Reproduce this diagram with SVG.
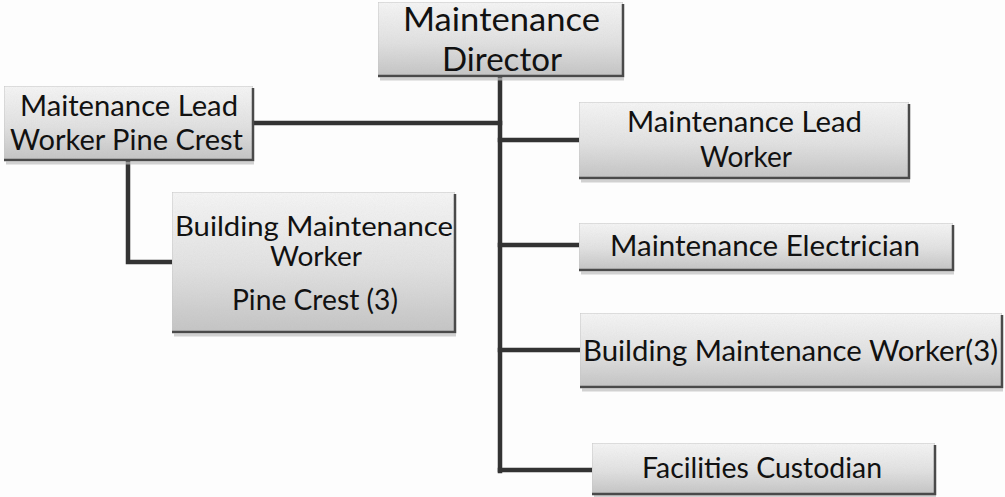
<svg xmlns="http://www.w3.org/2000/svg" width="1005" height="497" viewBox="0 0 1005 497">
<defs>
<linearGradient id="g" x1="0" y1="0" x2="0" y2="1">
<stop offset="0" stop-color="#f7f7f7"/>
<stop offset="0.55" stop-color="#e2e2e2"/>
<stop offset="1" stop-color="#c4c4c4"/>
</linearGradient>
<filter id="grain" x="0" y="0" width="1" height="1">
<feTurbulence type="fractalNoise" baseFrequency="0.9" numOctaves="2" result="n"/>
<feColorMatrix in="n" type="matrix" values="0 0 0 0 0.5  0 0 0 0 0.5  0 0 0 0 0.5  0 0 0 0.18 0" result="m"/>
<feComposite in="m" in2="SourceGraphic" operator="in" result="c"/>
<feMerge><feMergeNode in="SourceGraphic"/><feMergeNode in="c"/></feMerge>
</filter>
</defs>
<style>
.box{fill:url(#g);stroke:#c8c8c8;stroke-width:1;filter:url(#grain)}
.edge{fill:none;stroke:#4a4a4a;stroke-width:2.5}
.shadow{fill:none;stroke:#bdbdbd;stroke-width:3;opacity:0.7}
.conn{fill:none;stroke:#333;stroke-width:4.5;stroke-linecap:square}
text{font-family:Lato,"Open Sans","Liberation Sans",sans-serif;fill:#111;text-anchor:start}
</style>
<rect width="1005" height="497" fill="#fdfdfd"/>
<g id="connectors">
<path class="conn" d="M500,77 V471"/>
<path class="conn" d="M253,123 H500"/>
<path class="conn" d="M500,140 H579"/>
<path class="conn" d="M500,245 H579"/>
<path class="conn" d="M500,350 H580"/>
<path class="conn" d="M500,470 H592"/>
<path class="conn" d="M128,160 V262 H172"/>
</g>
<g id="director">
<rect class="box" x="378" y="2" width="245" height="74"/>
<path class="shadow" d="M380,79 H624"/>
<path class="edge" d="M623,4 V76 H378"/>
<text x="403" y="31" font-size="33" textLength="197" lengthAdjust="spacingAndGlyphs">Maintenance</text>
<text x="442" y="71" font-size="33" textLength="120" lengthAdjust="spacingAndGlyphs">Director</text>
</g>
<g id="lead-pine-crest">
<rect class="box" x="4" y="86" width="249" height="74"/>
<path class="shadow" d="M6,163 H254"/>
<path class="edge" d="M253,88 V160 H4"/>
<text x="20" y="116" font-size="28" textLength="218" lengthAdjust="spacingAndGlyphs">Maitenance Lead</text>
<text x="10" y="150" font-size="28" textLength="233" lengthAdjust="spacingAndGlyphs">Worker Pine Crest</text>
</g>
<g id="bmw-pine-crest">
<rect class="box" x="172" y="192" width="283" height="140"/>
<path class="shadow" d="M174,335 H456"/>
<path class="edge" d="M455,194 V332 H172"/>
<text x="175" y="236" font-size="26" textLength="278" lengthAdjust="spacingAndGlyphs">Building Maintenance</text>
<text x="270" y="266" font-size="26" textLength="92" lengthAdjust="spacingAndGlyphs">Worker</text>
<text x="232" y="310" font-size="28" textLength="166" lengthAdjust="spacingAndGlyphs">Pine Crest (3)</text>
</g>
<g id="lead-worker">
<rect class="box" x="579" y="102" width="330" height="76"/>
<path class="shadow" d="M581,181 H910"/>
<path class="edge" d="M909,104 V178 H579"/>
<text x="627" y="132" font-size="28" textLength="235" lengthAdjust="spacingAndGlyphs">Maintenance Lead</text>
<text x="700" y="167" font-size="28" textLength="92" lengthAdjust="spacingAndGlyphs">Worker</text>
</g>
<g id="electrician">
<rect class="box" x="579" y="223" width="374" height="47"/>
<path class="shadow" d="M581,273 H954"/>
<path class="edge" d="M953,225 V270 H579"/>
<text x="610" y="256" font-size="28" textLength="310" lengthAdjust="spacingAndGlyphs">Maintenance Electrician</text>
</g>
<g id="bmw-3">
<rect class="box" x="580" y="313" width="422" height="74"/>
<path class="shadow" d="M582,390 H1003"/>
<path class="edge" d="M1002,315 V387 H580"/>
<text x="583" y="361" font-size="28" textLength="415" lengthAdjust="spacingAndGlyphs">Building Maintenance Worker(3)</text>
</g>
<g id="custodian">
<rect class="box" x="592" y="443" width="343" height="51"/>
<path class="shadow" d="M594,496 H936"/>
<path class="edge" d="M935,445 V494 H592"/>
<text x="642" y="478" font-size="28" textLength="240" lengthAdjust="spacingAndGlyphs">Facilities Custodian</text>
</g>
</svg>
